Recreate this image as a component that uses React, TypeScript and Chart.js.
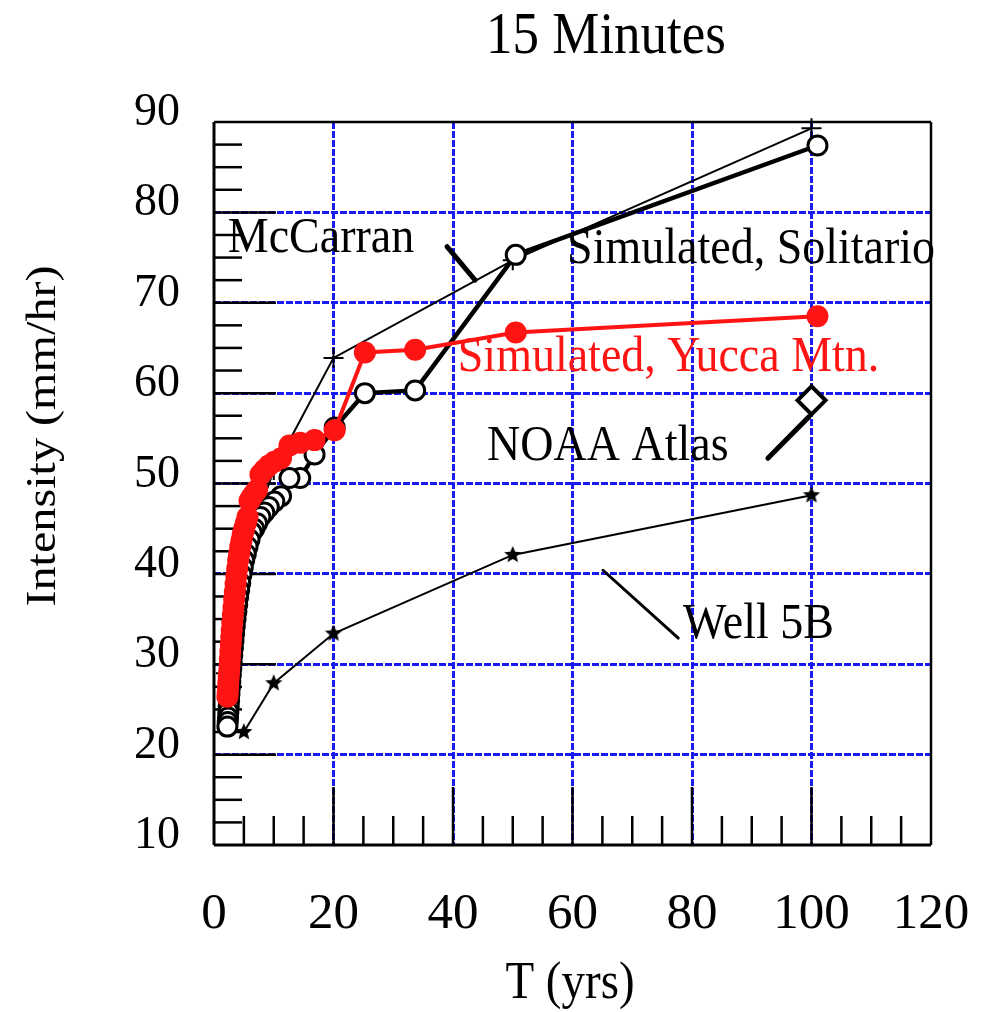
import React, { useEffect, useRef } from 'react';
import { Chart, registerables } from 'chart.js';

Chart.register(...registerables);

// ---------- data ----------
const RETURN_PERIODS = [
  101, 50.5, 33.67, 25.25, 20.2, 16.83, 14.43, 12.63, 11.22, 10.1,
  9.18, 8.42, 7.77, 7.21, 6.73, 6.31, 5.94, 5.61, 5.32, 5.05,
  4.81, 4.59, 4.39, 4.21, 4.04, 3.88, 3.74, 3.61, 3.48, 3.37,
  3.26, 3.16, 3.06, 2.97, 2.89, 2.81, 2.73, 2.66, 2.59, 2.53,
  2.46, 2.4, 2.35, 2.3, 2.24,
];
const YUCCA_MTN = [
  68.5, 66.7, 64.8, 64.5, 55.9, 54.8, 54.5, 54.2, 52.8, 52.4,
  52.0, 51.5, 51.0, 49.3, 48.9, 48.5, 48.1, 46.3, 45.6, 45.0,
  44.4, 43.7, 43.0, 42.2, 41.5, 40.6, 39.8, 38.9, 38.0, 37.2,
  36.3, 35.5, 34.6, 33.8, 33.0, 32.2, 31.4, 30.6, 29.9, 29.2,
  28.6, 28.0, 27.4, 26.9, 26.4,
];
const SOLITARIO = [
  87.4, 75.3, 60.3, 60.0, 56.2, 53.2, 50.6, 50.6, 48.6, 48.0,
  47.4, 46.8, 46.3, 45.6, 45.0, 44.6, 43.8, 43.0, 42.2, 41.5,
  40.7, 39.9, 39.0, 38.2, 37.4, 36.6, 35.8, 35.0, 34.2, 33.4,
  32.6, 31.8, 31.0, 30.2, 29.5, 28.8, 28.1, 27.4, 26.7, 26.0,
  25.3, 24.7, 24.1, 23.6, 23.1,
];
const MCCARRAN_T = [2, 5, 10, 20, 50, 100];
const MCCARRAN = [29, 42, 51.5, 63.9, 74.7, 89.3];
const WELL5B_T = [5, 10, 20, 50, 100];
const WELL5B = [22.5, 27.9, 33.4, 42.1, 48.7];
const NOAA_T = [100];
const NOAA = [59.2];

const X_MIN = 0, X_MAX = 120, X_STEP = 20;
const Y_MIN = 10, Y_MAX = 90, Y_STEP = 10;
const X_MINOR_TICKS = [5, 10, 15, 25, 30, 35, 45, 50, 55, 65, 70, 75, 85, 90, 95, 105, 110, 115];
const X_MAJOR_TICKS = [20, 40, 60, 80, 100];
const Y_MINOR_TICKS = [12.5, 15, 17.5, 22.5, 25, 27.5, 32.5, 35, 37.5, 42.5, 45, 47.5, 52.5, 55, 57.5, 62.5, 65, 67.5, 72.5, 75, 77.5, 82.5, 85, 87.5];
const Y_MAJOR_TICKS = [20, 30, 40, 50, 60, 70, 80];

const TITLE = '15 Minutes';
const X_TITLE = 'T (yrs)';
const Y_TITLE = 'Intensity (mm/hr)';

// annotation labels (anchored in data units)
const LABELS = ['McCarran', 'Simulated, Solitario', 'Simulated, Yucca Mtn.', 'NOAA Atlas', 'Well 5B'];
const LABEL_X = [2.3, 59.1, 40.8, 45.7, 78.5];
const LABEL_Y = [75.6, 74.4, 62.4, 52.6, 32.9];
const LABEL_COLORS = ['#000', '#000', '#ff1414', '#000', '#000'];
// pointer lines (data units)
const POINTER_X1 = [39.0, 92.7, 65.1];
const POINTER_Y1 = [76.2, 52.8, 40.4];
const POINTER_X2 = [43.7, 99.6, 77.7];
const POINTER_Y2 = [72.5, 57.4, 32.9];
const POINTER_W = [5, 5, 3];

const RED = '#ff1414';
const BLUE = '#1a1af2';
const FONT = "'Liberation Serif', 'Times New Roman', serif";
const STRETCH = 1.12;

function makeStar(r: number): HTMLCanvasElement {
  const c = document.createElement('canvas');
  const s = Math.ceil(r * 2 + 2);
  c.width = s;
  c.height = s;
  const g = c.getContext('2d')!;
  g.translate(s / 2, s / 2);
  g.beginPath();
  for (let i = 0; i < 10; i++) {
    const rad = i % 2 === 0 ? r : r * 0.45;
    const ang = -Math.PI / 2 + (i * Math.PI) / 5;
    g.lineTo(rad * Math.cos(ang), rad * Math.sin(ang));
  }
  g.closePath();
  g.fillStyle = '#000';
  g.fill();
  return c;
}

function drawText(ctx: CanvasRenderingContext2D, text: string, x: number, y: number, size: number, color: string, align: CanvasTextAlign, rotate = 0) {
  ctx.save();
  ctx.translate(x, y);
  if (rotate) {
    ctx.rotate(rotate);
    ctx.scale(STRETCH, 1);
  } else {
    ctx.scale(1, STRETCH);
  }
  ctx.font = `${size}px ${FONT}`;
  ctx.fillStyle = color;
  ctx.textAlign = align;
  ctx.textBaseline = 'alphabetic';
  ctx.fillText(text, 0, 0);
  ctx.restore();
}

const framePlugin = {
  id: 'frameTicks',
  beforeDatasetsDraw(chart: any) {
    const { ctx, chartArea: a, scales } = chart;
    const x = scales.x, y = scales.y;
    ctx.save();
    ctx.strokeStyle = '#000';
    ctx.lineCap = 'butt';
    const seg = (x1: number, y1: number, x2: number, y2: number) => {
      ctx.beginPath();
      ctx.moveTo(x1, y1);
      ctx.lineTo(x2, y2);
      ctx.stroke();
    };
    ctx.lineWidth = 2.5;
    for (const v of X_MINOR_TICKS) { const p = x.getPixelForValue(v); seg(p, a.bottom, p, a.bottom - 29); }
    for (const v of X_MAJOR_TICKS) { const p = x.getPixelForValue(v); seg(p, a.bottom, p, a.bottom - 58); }
    for (const v of Y_MINOR_TICKS) { const p = y.getPixelForValue(v); seg(a.left, p, a.left + 28, p); }
    for (const v of Y_MAJOR_TICKS) { const p = y.getPixelForValue(v); seg(a.left, p, a.left + 62, p); }
    ctx.lineWidth = 3;
    seg(a.left, a.top, a.left, a.bottom);
    seg(a.left, a.bottom, a.right, a.bottom);
    ctx.lineWidth = 2.5;
    seg(a.left, a.top, a.right, a.top);
    seg(a.right, a.top, a.right, a.bottom);
    ctx.restore();
  },
  afterDraw(chart: any) {
    const { ctx, scales } = chart;
    const x = scales.x, y = scales.y;
    ctx.save();
    ctx.strokeStyle = '#000';
    ctx.lineCap = 'round';
    for (let i = 0; i < POINTER_X1.length; i++) {
      ctx.lineWidth = POINTER_W[i];
      ctx.beginPath();
      ctx.moveTo(x.getPixelForValue(POINTER_X1[i]), y.getPixelForValue(POINTER_Y1[i]));
      ctx.lineTo(x.getPixelForValue(POINTER_X2[i]), y.getPixelForValue(POINTER_Y2[i]));
      ctx.stroke();
    }
    ctx.restore();
    for (let i = 0; i < LABELS.length; i++) {
      drawText(ctx, LABELS[i], x.getPixelForValue(LABEL_X[i]), y.getPixelForValue(LABEL_Y[i]), 46, LABEL_COLORS[i], 'left');
    }
    drawText(ctx, TITLE, 606, 53, 53, '#000', 'center');
    drawText(ctx, X_TITLE, 570, 998, 47, '#000', 'center');
    drawText(ctx, Y_TITLE, 55, 436, 43, '#000', 'center', -Math.PI / 2);
  },
};

const pts = (xs: number[], ys: number[]) => xs.map((t, i) => ({ x: t, y: ys[i] }));

export default function App() {
  const ref = useRef<HTMLCanvasElement>(null);
  useEffect(() => {
    if (!ref.current) return;
    const star = makeStar(9);
    const gridColor = (c: any) => {
      const v = c.tick ? c.tick.value : null;
      return v === X_MIN || v === X_MAX || v === Y_MIN || v === Y_MAX ? 'rgba(0,0,0,0)' : BLUE;
    };
    const chart = new Chart(ref.current, {
      type: 'scatter',
      data: {
        datasets: [
          {
            label: 'Simulated, Yucca Mtn.',
            data: pts(RETURN_PERIODS, YUCCA_MTN),
            showLine: true,
            borderColor: RED,
            borderWidth: 4,
            pointRadius: 11,
            pointBorderWidth: 0,
            pointBackgroundColor: RED,
            pointBorderColor: RED,
            order: 0,
            clip: false,
          },
          {
            label: 'Simulated, Solitario',
            data: pts(RETURN_PERIODS, SOLITARIO),
            showLine: true,
            borderColor: '#000',
            borderWidth: 4.5,
            pointRadius: 9.5,
            pointBorderWidth: 3,
            pointBackgroundColor: '#fff',
            pointBorderColor: '#000',
            order: 1,
            clip: false,
          },
          {
            label: 'McCarran',
            data: pts(MCCARRAN_T, MCCARRAN),
            showLine: true,
            borderColor: '#000',
            borderWidth: 2,
            pointStyle: 'cross',
            pointRadius: 10,
            pointBorderWidth: 2,
            pointBorderColor: '#000',
            order: 2,
            clip: false,
          },
          {
            label: 'Well 5B',
            data: pts(WELL5B_T, WELL5B),
            showLine: true,
            borderColor: '#000',
            borderWidth: 2,
            pointStyle: star,
            pointRadius: 9,
            order: 3,
            clip: false,
          },
          {
            label: 'NOAA Atlas',
            data: pts(NOAA_T, NOAA),
            showLine: false,
            pointStyle: 'rectRot',
            pointRadius: 14,
            pointBorderWidth: 4,
            pointBorderColor: '#000',
            pointBackgroundColor: '#fff',
            order: 4,
            clip: false,
          },
        ] as any,
      },
      options: {
        animation: false,
        responsive: true,
        maintainAspectRatio: false,
        layout: { padding: { top: 122, right: 51, left: 0, bottom: 0 } },
        plugins: { legend: { display: false }, tooltip: { enabled: false }, title: { display: false } },
        scales: {
          x: {
            type: 'linear',
            min: X_MIN,
            max: X_MAX,
            ticks: { stepSize: X_STEP, color: '#000', padding: 39, font: { family: FONT, size: 51 } },
            grid: { color: gridColor, lineWidth: 3, drawTicks: false },
            border: { display: false, dash: [7, 2] },
            afterFit: (s: any) => {
              s.height = 167;
              s.paddingLeft = 0;
              s.paddingRight = 0;
            },
          },
          y: {
            type: 'linear',
            min: Y_MIN,
            max: Y_MAX,
            ticks: { stepSize: Y_STEP, color: '#000', padding: 34, labelOffset: -9, font: { family: FONT, size: 46 } },
            grid: { color: gridColor, lineWidth: 3, drawTicks: false },
            border: { display: false, dash: [7, 2] },
            afterFit: (s: any) => {
              s.width = 214;
              s.paddingTop = 0;
              s.paddingBottom = 0;
            },
          },
        },
      } as any,
      plugins: [framePlugin],
    });
    return () => chart.destroy();
  }, []);
  return (
    <div style={{ position: 'absolute', left: 0, top: 0, width: 982, height: 1012, background: '#fff' }}>
      <canvas ref={ref} />
    </div>
  );
}
